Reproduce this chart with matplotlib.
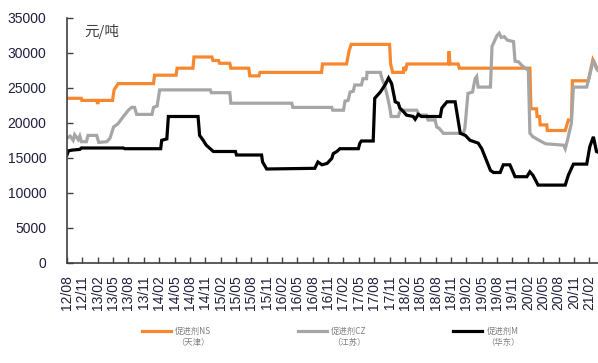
import matplotlib
matplotlib.use("Agg")
import matplotlib.pyplot as plt
from matplotlib.lines import Line2D

plt.rcParams['font.family'] = ['Liberation Sans', 'Noto Sans CJK SC', 'DejaVu Sans']

# x positions are months elapsed since 2012/08
tick_labels = ["12/08", "12/11", "13/02", "13/05", "13/08", "13/11", "14/02", "14/05",
               "14/08", "14/11", "15/02", "15/05", "15/08", "15/11", "16/02", "16/05",
               "16/08", "16/11", "17/02", "17/05", "17/08", "17/11", "18/02", "18/05",
               "18/08", "18/11", "19/02", "19/05", "19/08", "19/11", "20/02", "20/05",
               "20/08", "20/11", "21/02"]

# 促进剂NS（天津）, 元/吨
ns_month = [0, 2.8, 2.9, 5.8, 6.0, 6.2, 8.9, 9.2, 10.0, 16.9, 17.1, 21.3, 21.5, 24.6, 24.8,
            28.3, 28.5, 29.6, 29.8, 31.8, 32.0, 35.5, 35.7, 37.5, 37.7, 49.7, 49.9,
            54.6, 55.1, 55.5, 63.0, 63.2, 63.6, 65.7, 65.8, 66.1, 66.4, 74.5, 74.6, 74.8,
            76.4, 76.6, 90.4, 90.6, 91.7, 91.8, 92.3, 92.4, 93.7, 93.8, 97.3, 97.9,
            98.5, 98.7, 101.8, 102.7, 103.7]
ns_price = [23500, 23500, 23200, 23200, 22700, 23200, 23200, 24700, 25600, 25600, 26800,
            26800, 27800, 27800, 29400, 29400, 28900, 28900, 28500, 28500, 27800, 27800,
            26700, 26700, 27200, 27200, 28400, 28400, 30300, 31200, 31200, 28400, 27200,
            27200, 28000, 27400, 28400, 28400, 30200, 28400, 28400, 27800, 27800, 22000,
            22000, 20900, 20900, 19700, 19700, 18900, 18900, 20400, 20400, 26000, 26000,
            29000, 27500]

# 促进剂CZ（江苏）, 元/吨
cz_month = [0, 0.6, 1.2, 1.5, 2.2, 2.5, 2.8, 3.8, 4.1, 5.8, 6.2, 7.8, 8.4, 9.1, 10.0, 11.0,
            12.0, 12.6, 13.2, 13.6, 16.6, 16.9, 17.6, 18.1, 28.0, 28.2, 31.8, 32.0, 43.9,
            44.1, 51.7, 51.9, 54.0, 54.3, 54.9, 55.3, 55.9, 56.2, 57.5, 57.8, 58.5, 58.6,
            61.2, 61.5, 62.0, 62.5, 63.0, 63.3, 64.7, 65.1, 68.3, 68.8, 70.2, 70.5, 71.9,
            72.2, 72.7, 73.5, 77.4, 77.7, 78.3, 79.2, 79.7, 80.0, 80.3, 82.7, 83.0, 84.0,
            84.4, 84.8, 85.4, 86.0, 87.2, 87.5, 88.2, 88.8, 90.1, 90.4, 91.0, 92.7, 93.5,
            97.0, 97.3, 97.7, 98.2, 98.5, 98.9, 101.5, 102.1, 102.8, 103.4, 103.7]
cz_price = [17800, 18100, 17500, 18300, 17600, 18100, 17300, 17300, 18200, 18200, 17200,
            17300, 17800, 19400, 19900, 20900, 21800, 22200, 22200, 21200, 21200, 22200,
            22400, 24700, 24700, 24300, 24300, 22800, 22800, 22200, 22200, 21800, 21800,
            23100, 23200, 24400, 24500, 25400, 25400, 26300, 26300, 27200, 27200, 26300,
            25400, 24000, 22300, 20900, 20900, 21800, 21800, 21100, 21100, 20400, 20400,
            19400, 19200, 18500, 18500, 19200, 24200, 24400, 26300, 26600, 25100, 25100,
            30900, 32500, 32800, 32200, 32300, 31800, 31600, 28800, 28700, 28200, 27500,
            18500, 18000, 17300, 17000, 16800, 16300, 17400, 19000, 19900, 25100, 25100,
            26900, 29000, 27700, 27500]

# 促进剂M（华东）, 元/吨
m_month = [0, 0.3, 1.0, 2.5, 2.8, 11.0, 11.3, 18.3, 18.5, 19.5, 19.8, 25.6, 25.9, 26.6,
           27.2, 28.6, 32.9, 33.1, 38.0, 38.2, 39.0, 48.4, 49.0, 49.8, 50.8, 51.7, 52.0,
           52.7, 53.3, 56.9, 57.2, 57.5, 59.8, 60.1, 61.2, 62.1, 62.8, 63.4, 64.1, 64.7,
           65.0, 65.7, 66.3, 67.6, 68.0, 68.6, 69.2, 72.9, 73.2, 74.2, 75.8, 76.8, 77.8,
           78.7, 80.3, 81.0, 82.7, 83.3, 84.6, 85.2, 86.5, 87.5, 89.8, 90.4, 91.0, 92.0,
           97.3, 97.9, 98.9, 101.5, 102.1, 102.8, 103.4, 103.7]
m_price = [15400, 16000, 16100, 16200, 16400, 16400, 16300, 16300, 17500, 17700, 20900,
           20900, 18200, 17500, 16800, 15900, 15900, 15400, 15400, 14400, 13400, 13500,
           14400, 14000, 14200, 14900, 15600, 15900, 16300, 16300, 17100, 17400, 17400,
           23500, 24400, 25400, 26400, 25600, 23000, 22800, 22100, 21600, 21100, 20900,
           20500, 21200, 20900, 20900, 22100, 23000, 23000, 18500, 18200, 17500, 17100,
           16300, 13200, 12900, 12900, 14000, 14000, 12300, 12300, 13000, 12500, 11100,
           11100, 12500, 14100, 14100, 16600, 18000, 15900, 15800]

series = [
    (ns_month, ns_price, "#F7882F", "促进剂NS", "（天津）"),
    (cz_month, cz_price, "#A6A6A6", "促进剂CZ", "（江苏）"),
    (m_month, m_price, "#000000", "促进剂M", "（华东）"),
]

fig = plt.figure(figsize=(5.98, 3.63), dpi=100)
ax = fig.add_axes([0.112, 0.276, 0.888, 0.675])

for xs, ys, color, name, region in series:
    ax.plot(xs, ys, color=color, lw=2.3, solid_joinstyle='miter', label=name)

ax.set_xlim(0, 103.7)
ax.set_ylim(0, 35000)
ax.set_yticks(range(0, 35001, 5000))
ax.set_xticks([3 * i for i in range(len(tick_labels))])
ax.set_xticklabels(tick_labels, rotation=90)

label_color = "#1f1f3f"
ax.tick_params(axis='y', direction='in', length=4, width=1, pad=15,
               labelsize=10, labelcolor=label_color, color='#404040')
ax.tick_params(axis='x', direction='in', length=4, width=1, pad=9,
               labelsize=10, labelcolor=label_color, color='#404040')
for side in ("top", "right"):
    ax.spines[side].set_visible(False)
for side in ("left", "bottom"):
    ax.spines[side].set_color('#404040')
    ax.spines[side].set_linewidth(1.2)

ax.text(0.032, 0.945, "元/吨", transform=ax.transAxes, ha='left', va='center',
        fontsize=10.5, color='#404040', family=['Noto Sans CJK SC', 'DejaVu Sans'])

handles = [Line2D([], [], color=c, lw=2.3) for _, _, c, _, _ in series]
leg = fig.legend(handles, [s[3] for s in series], loc='center',
                 bbox_to_anchor=(0.552, 0.088), ncol=3, frameon=False,
                 handlelength=3.5, handletextpad=0.5, columnspacing=10.4,
                 prop={'family': ['Noto Sans CJK SC', 'DejaVu Sans'], 'size': 6})
for t in leg.get_texts():
    t.set_color('#7f7f7f')

# region names go centred under each legend label
fig.canvas.draw()
W, H = fig.canvas.get_width_height()
for t, s in zip(leg.get_texts(), series):
    bb = t.get_window_extent()
    fig.text((bb.x0 + bb.x1) / 2 / W, (bb.y0 - 7) / H, s[4], ha='center', va='center',
             fontsize=6, color='#7f7f7f', family=['Noto Sans CJK SC', 'DejaVu Sans'])

fig.savefig("out.png", dpi=100)
